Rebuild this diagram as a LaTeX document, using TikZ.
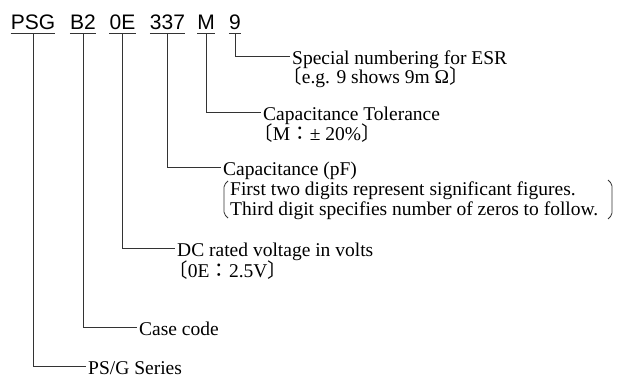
\documentclass[tikz,border=0pt]{standalone}
\usepackage{fontspec}
\setmainfont{Liberation Serif}
\newfontfamily\codefont{Liberation Sans}
\newfontfamily\cjk{Noto Sans CJK JP}
\newcommand{\lbrk}{{\cjk\hspace{-0.5em}〔}}
\newcommand{\rbrk}{{\cjk 〕\hspace{-0.5em}}}
\newcommand{\jcolon}{{\cjk ：}}
\begin{document}
\begin{tikzpicture}[x=1pt,y=-1pt,
    code/.style={font=\codefont\fontsize{21}{21}\selectfont, inner xsep=0pt, inner ysep=3.5pt, text depth=0pt, anchor=base},
    desc/.style={font=\fontsize{19.5}{23}\selectfont, inner xsep=2pt, inner ysep=0pt, text height=16pt, text depth=0pt, anchor=west},
    note/.style={font=\fontsize{19.5}{23}\selectfont, inner sep=0pt, text height=13pt, text depth=3pt, anchor=base west},
    line/.style={line width=0.8pt, black!80}]
      \useasboundingbox (0,0) rectangle (618,380);
      \draw
        (33,29.5) node[code] (psg){PSG}
        (83,29.5) node[code] (b2){B2}
        (122.5,29.5) node[code] (oe){0E}
        (167.5,29.5) node[code] (cap){337}
        (206,29.5) node[code] (tol){M}
        (235,29.5) node[code] (esr){9};
      \draw
        (290,56) node[desc] (esrtxt){Special numbering for ESR}
        (292,83) node[note] (esrnote){\lbrk e.g. 9 shows 9m Ω\rbrk}
        (261,112) node[desc] (toltxt){Capacitance Tolerance}
        (263,140) node[note] (tolnote){\lbrk M\jcolon± 20\%\rbrk}
        (221,167) node[desc] (captxt){Capacitance (pF)}
        (230,195) node[note] (capnote1){First two digits represent significant figures.}
        (230,215) node[note] (capnote2){Third digit specifies number of zeros to follow.}
        (175,248) node[desc] (volttxt){DC rated voltage in volts}
        (178,277) node[note] (voltnote){\lbrk 0E\jcolon 2.5V\rbrk}
        (137,327) node[desc] (casetxt){Case code}
        (86,366) node[desc] (sertxt){PS/G Series};
      \begin{scope}[line]
        \foreach \n in {psg,b2,oe,cap,tol,esr}
          \draw (\n.south west) -- (\n.south east);
        \draw (esr.south) |- (esrtxt.west);
        \draw (tol.south) |- (toltxt.west);
        \draw (cap.south) |- (captxt.west);
        \draw (oe.south) |- (volttxt.west);
        \draw (b2.south) |- (casetxt.west);
        \draw (psg.south) |- (sertxt.west);
        \draw[rounded corners=2pt] (228,181) -- (224,185) -- (224,214) -- (228,218);
        \draw[rounded corners=2pt] (608,180) -- (612,184) -- (612,215) -- (608,219);
      \end{scope}
    \end{tikzpicture}
\end{document}
